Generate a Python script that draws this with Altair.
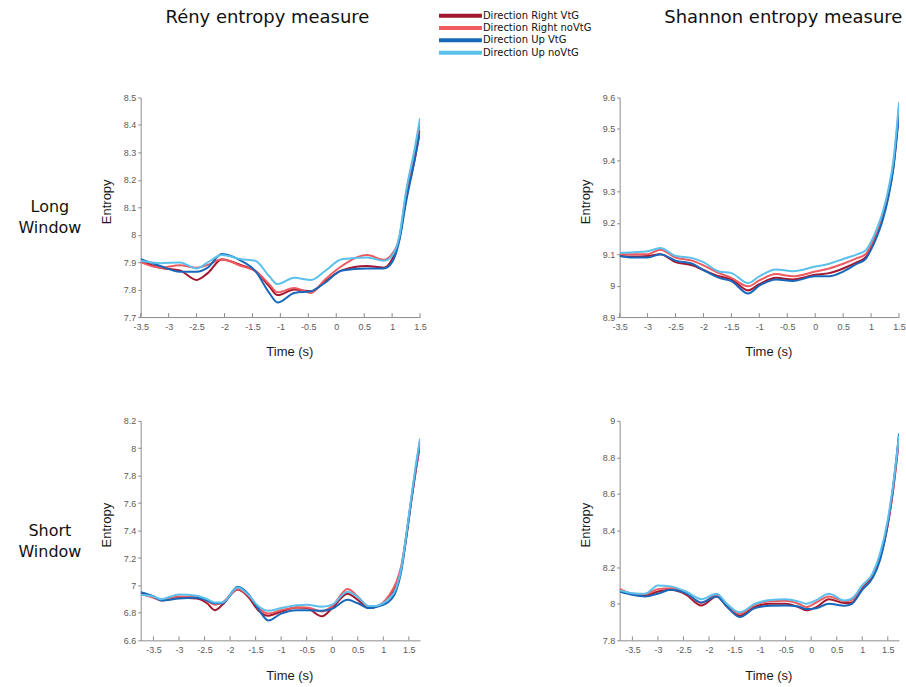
import altair as alt
import pandas as pd

SERIES = ["Direction Right VtG", "Direction Right noVtG", "Direction Up VtG", "Direction Up noVtG"]
COLORS = ["#a3172f", "#ee5a60", "#1768bb", "#5cc0ec"]

COL_TITLES = ["Rény entropy measure", "Shannon entropy measure"]
ROW_TITLES = [["Long", "Window"], ["Short", "Window"]]
X_TITLE = "Time (s)"
Y_TITLE = "Entropy"

X_TICKS = [-3.5, -3, -2.5, -2, -1.5, -1, -0.5, 0, 0.5, 1, 1.5]
TL_YTICKS = [7.7, 7.8, 7.9, 8, 8.1, 8.2, 8.3, 8.4, 8.5]
TR_YTICKS = [8.9, 9, 9.1, 9.2, 9.3, 9.4, 9.5, 9.6]
BL_YTICKS = [6.6, 6.8, 7, 7.2, 7.4, 7.6, 7.8, 8, 8.2]
BR_YTICKS = [7.8, 8, 8.2, 8.4, 8.6, 8.8, 9]

# ---- Long window, Rény ----
TL_T = [-3.5, -3.15, -2.8, -2.5, -2.3, -2.05, -1.7, -1.45, -1.2, -1.05, -0.75, -0.45, -0.2, 0.1, 0.55, 0.85, 1.0, 1.13, 1.25, 1.4, 1.5]
TL_RV = [7.905, 7.88, 7.87, 7.835, 7.86, 7.91, 7.889, 7.868, 7.812, 7.78, 7.80, 7.794, 7.83, 7.87, 7.886, 7.88, 7.911, 7.985, 8.13, 8.27, 8.38]
TL_RN = [7.90, 7.88, 7.889, 7.88, 7.89, 7.911, 7.886, 7.868, 7.82, 7.79, 7.806, 7.788, 7.837, 7.886, 7.926, 7.909, 7.93, 7.99, 8.15, 8.30, 8.41]
TL_UV = [7.911, 7.886, 7.865, 7.865, 7.88, 7.93, 7.905, 7.868, 7.788, 7.753, 7.788, 7.794, 7.825, 7.87, 7.877, 7.877, 7.90, 7.98, 8.12, 8.27, 8.38]
TL_UN = [7.905, 7.896, 7.899, 7.877, 7.899, 7.926, 7.911, 7.905, 7.849, 7.82, 7.843, 7.835, 7.868, 7.911, 7.917, 7.905, 7.924, 7.995, 8.16, 8.31, 8.425]

# ---- Long window, Shannon ----
TR_T = [-3.5, -3.25, -3.0, -2.77, -2.5, -2.2, -2.0, -1.72, -1.5, -1.2, -1.0, -0.7, -0.4, 0.0, 0.25, 0.5, 0.75, 0.9, 1.0, 1.1, 1.2, 1.3, 1.4, 1.5]
TR_RV = [9.095, 9.093, 9.095, 9.10, 9.075, 9.065, 9.05, 9.03, 9.02, 8.985, 9.005, 9.025, 9.02, 9.035, 9.04, 9.055, 9.075, 9.09, 9.12, 9.16, 9.21, 9.28, 9.38, 9.555]
TR_RN = [9.10, 9.10, 9.10, 9.115, 9.09, 9.08, 9.065, 9.04, 9.025, 8.998, 9.017, 9.037, 9.03, 9.045, 9.055, 9.07, 9.088, 9.10, 9.13, 9.17, 9.22, 9.29, 9.39, 9.57]
TR_UV = [9.095, 9.09, 9.09, 9.10, 9.08, 9.07, 9.05, 9.025, 9.015, 8.975, 9.0, 9.02, 9.015, 9.03, 9.03, 9.045, 9.07, 9.085, 9.115, 9.155, 9.205, 9.275, 9.375, 9.55]
TR_UN = [9.105, 9.107, 9.11, 9.12, 9.095, 9.088, 9.075, 9.045, 9.04, 9.008, 9.03, 9.052, 9.046, 9.061, 9.07, 9.085, 9.10, 9.112, 9.14, 9.18, 9.23, 9.30, 9.40, 9.585]

# ---- Short window, Rény ----
BL_T = [-3.75, -3.5, -3.35, -3.0, -2.65, -2.45, -2.3, -2.15, -1.85, -1.65, -1.45, -1.25, -1.0, -0.7, -0.5, -0.2, 0.0, 0.3, 0.5, 0.72, 0.82, 1.1, 1.25, 1.35, 1.45, 1.55, 1.63, 1.72]
BL_RV = [6.94, 6.92, 6.895, 6.91, 6.905, 6.87, 6.82, 6.86, 6.97, 6.92, 6.82, 6.78, 6.81, 6.84, 6.835, 6.775, 6.835, 6.94, 6.895, 6.835, 6.84, 6.905, 7.0, 7.12, 7.35, 7.62, 7.82, 8.03]
BL_RN = [6.94, 6.91, 6.89, 6.92, 6.915, 6.89, 6.86, 6.875, 6.975, 6.93, 6.84, 6.795, 6.82, 6.84, 6.84, 6.81, 6.85, 6.975, 6.92, 6.845, 6.845, 6.92, 7.02, 7.14, 7.37, 7.63, 7.83, 8.04]
BL_UV = [6.95, 6.92, 6.89, 6.905, 6.91, 6.89, 6.87, 6.87, 6.99, 6.94, 6.83, 6.745, 6.795, 6.82, 6.82, 6.815, 6.83, 6.895, 6.87, 6.835, 6.84, 6.88, 6.96, 7.10, 7.35, 7.63, 7.84, 8.06]
BL_UN = [6.93, 6.92, 6.90, 6.935, 6.925, 6.90, 6.875, 6.875, 6.985, 6.935, 6.85, 6.815, 6.835, 6.855, 6.86, 6.845, 6.86, 6.955, 6.915, 6.85, 6.85, 6.90, 6.98, 7.12, 7.37, 7.65, 7.86, 8.07]

# ---- Short window, Shannon ----
BR_T = [-3.75, -3.5, -3.25, -3.0, -2.75, -2.45, -2.15, -1.85, -1.65, -1.4, -1.1, -0.8, -0.5, -0.25, -0.1, 0.1, 0.35, 0.65, 0.8, 1.0, 1.2, 1.35, 1.5, 1.6, 1.72]
BR_RV = [8.076, 8.055, 8.044, 8.067, 8.076, 8.05, 7.99, 8.04, 7.985, 7.935, 7.982, 8.0, 8.0, 7.982, 7.964, 7.982, 8.025, 8.004, 8.007, 8.09, 8.15, 8.25, 8.43, 8.61, 8.90]
BR_RN = [8.082, 8.055, 8.053, 8.08, 8.085, 8.058, 8.004, 8.05, 7.995, 7.945, 7.995, 8.013, 8.016, 8.0, 7.982, 8.007, 8.04, 8.013, 8.022, 8.098, 8.158, 8.258, 8.44, 8.62, 8.91]
BR_UV = [8.067, 8.049, 8.04, 8.055, 8.076, 8.058, 8.007, 8.04, 7.985, 7.927, 7.976, 7.989, 7.99, 7.985, 7.971, 7.976, 8.0, 7.989, 8.0, 8.076, 8.14, 8.24, 8.44, 8.63, 8.93]
BR_UN = [8.073, 8.058, 8.055, 8.10, 8.095, 8.067, 8.025, 8.055, 8.0, 7.953, 8.0, 8.02, 8.025, 8.013, 8.0, 8.02, 8.055, 8.018, 8.03, 8.10, 8.165, 8.276, 8.46, 8.64, 8.92]

COL_W = [121, 280, 160, 280]
ROW_H = [77, 220, 64, 220]

ONE = pd.DataFrame({"a": [0]})
AX_COLOR = "#8c8c8c"
LBL_COLOR = "#5a5a5a"
COLOR = alt.Color("series:N", scale=alt.Scale(domain=SERIES, range=COLORS), legend=None)


def blank(w, h):
    return alt.Chart(ONE).mark_point(opacity=0, size=1).encode(
        x=alt.value(w / 2), y=alt.value(h / 2)).properties(width=w, height=h)


def text_cell(txt, w, h, cx, cy, size):
    return alt.Chart(ONE).mark_text(
        font="DejaVu Sans", fontSize=size, align="center", baseline="middle",
        lineHeight=21, color="#111111").encode(
        x=alt.value(cx), y=alt.value(cy), text=alt.value(txt)).properties(width=w, height=h)


def legend_cell(w, h):
    df = pd.DataFrame({"series": SERIES})
    ysc = alt.Y("series:N", sort=SERIES, axis=None,
                scale=alt.Scale(type="point", range=[15, 52], padding=0))
    rules = alt.Chart(df).mark_rule(strokeWidth=4).encode(
        y=ysc, x=alt.value(-1), x2=alt.value(42), color=COLOR)
    labels = alt.Chart(df).mark_text(
        font="DejaVu Sans", fontSize=10, align="left", baseline="middle", color="#111111").encode(
        y=ysc, x=alt.value(43), text="series:N")
    return alt.layer(rules, labels).properties(width=w, height=h)


def panel(t, vals, xdom, ydom, yticks, w, h):
    rows = []
    for s, v in zip(SERIES, vals):
        for ti, vi in zip(t, v):
            rows.append({"t": ti, "v": vi, "series": s})
    df = pd.DataFrame(rows)
    x_axis = alt.Axis(values=X_TICKS, labelExpr="'' + datum.value", title=X_TITLE, grid=False,
                      ticks=False, domainColor=AX_COLOR, labelColor=LBL_COLOR,
                      labelFont="Liberation Sans", labelFontSize=9, labelPadding=5,
                      labelFlush=False, labelOverlap=False,
                      titleFont="Liberation Sans", titleFontSize=13, titleFontWeight="normal",
                      titleColor="#1a1a1a", titleX=w / 2 + 9, titleY=35,
                      titleBaseline="middle", titleAlign="center")
    y_axis = alt.Axis(values=yticks, labelExpr="'' + datum.value", title=Y_TITLE, grid=False,
                      tickSize=3, tickColor=AX_COLOR, domainColor=AX_COLOR, labelColor=LBL_COLOR,
                      labelFont="Liberation Sans", labelFontSize=9, labelPadding=2,
                      labelFlush=False, labelOverlap=False,
                      titleFont="Liberation Sans", titleFontSize=13, titleFontWeight="normal",
                      titleColor="#1a1a1a", titleX=-34, titleY=h / 2 - 6, titleAngle=270,
                      titleBaseline="middle", titleAlign="center")
    X = alt.X("t:Q", scale=alt.Scale(domain=xdom, nice=False, zero=False), axis=x_axis)
    Y = alt.Y("v:Q", scale=alt.Scale(domain=ydom, nice=False, zero=False), axis=y_axis)
    lines = alt.Chart(df).mark_line(strokeWidth=2, interpolate="monotone", clip=True).encode(
        x=X, y=Y, color=COLOR)
    ticks = alt.Chart(pd.DataFrame({"t": X_TICKS})).mark_rule(
        color=AX_COLOR, strokeWidth=1).encode(x=X, y=alt.value(h), y2=alt.value(h - 4))
    return alt.layer(ticks, lines).properties(width=w, height=h)


cells = [
    blank(COL_W[0], ROW_H[0]),
    text_cell(COL_TITLES[0], COL_W[1], ROW_H[0], 127, 17, 18),
    legend_cell(COL_W[2], ROW_H[0]),
    text_cell(COL_TITLES[1], COL_W[3], ROW_H[0], 164, 17, 18),

    text_cell(ROW_TITLES[0], COL_W[0], ROW_H[1], 50, 110, 16),
    panel(TL_T, [TL_RV, TL_RN, TL_UV, TL_UN], [-3.5, 1.5], [7.7, 8.5], TL_YTICKS, COL_W[1], ROW_H[1]),
    blank(COL_W[2], ROW_H[1]),
    panel(TR_T, [TR_RV, TR_RN, TR_UV, TR_UN], [-3.5, 1.5], [8.9, 9.6], TR_YTICKS, COL_W[3], ROW_H[1]),

    blank(COL_W[0], ROW_H[2]),
    blank(COL_W[1], ROW_H[2]),
    blank(COL_W[2], ROW_H[2]),
    blank(COL_W[3], ROW_H[2]),

    text_cell(ROW_TITLES[1], COL_W[0], ROW_H[3], 50, 110, 16),
    panel(BL_T, [BL_RV, BL_RN, BL_UV, BL_UN], [-3.75, 1.72], [6.6, 8.2], BL_YTICKS, COL_W[1], ROW_H[3]),
    blank(COL_W[2], ROW_H[3]),
    panel(BR_T, [BR_RV, BR_RN, BR_UV, BR_UN], [-3.75, 1.72], [7.8, 9.0], BR_YTICKS, COL_W[3], ROW_H[3]),
]

chart = alt.concat(*cells, columns=4, spacing=20, bounds="flush", align="each").properties(
    padding=0, background="white"
).configure_view(strokeWidth=0)

chart.save("out.html", embed_options={"renderer": "svg", "actions": False})
